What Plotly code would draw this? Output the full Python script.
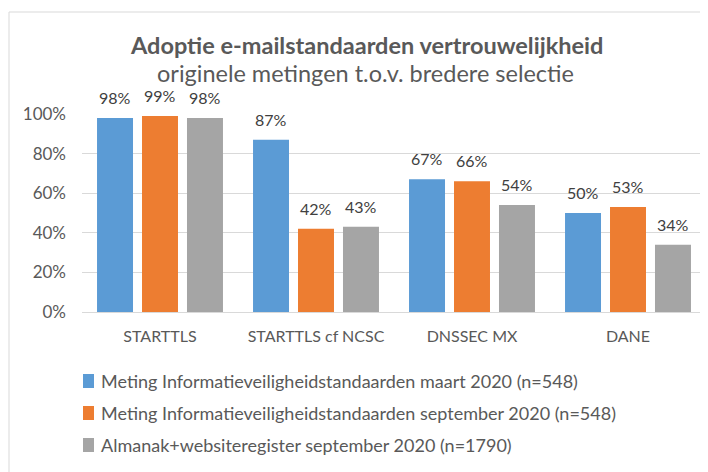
import plotly.graph_objects as go

categories = ["STARTTLS", "STARTTLS cf NCSC", "DNSSEC MX", "DANE"]
series_names = [
    "Meting Informatieveiligheidstandaarden maart 2020 (n=548)",
    "Meting Informatieveiligheidstandaarden september 2020 (n=548)",
    "Almanak+websiteregister september 2020 (n=1790)",
]
maart = [0.98, 0.87, 0.67, 0.50]
september = [0.99, 0.42, 0.66, 0.53]
almanak = [0.98, 0.43, 0.54, 0.34]
colors = ["#5B9BD5", "#ED7D31", "#A5A5A5"]
tick_vals = [0, 0.2, 0.4, 0.6, 0.8, 1.0]
tick_text = ["0%", "20%", "40%", "60%", "80%", "100%"]

FONT = "Lato, 'Open Sans', sans-serif"
TXT = "#595959"

# page body has an 8px margin; work in screen coordinates
OFF = 8
W, H = 700, 464
L, R, T, B = 82 - OFF, 2, 114 - OFF, 160
PW, PH = W - L - R, H - T - B
BARGAP, GROUPGAP = 0.135, 0.2


def px(x):
    return (x - OFF - L) / PW


def py(y):
    return (H - B - (y - OFF)) / PH


fig = go.Figure()
all_series = [maart, september, almanak]
for i, (name, vals) in enumerate(zip(series_names, all_series)):
    fig.add_trace(go.Bar(
        x=categories, y=vals, name=name,
        marker=dict(color=colors[i], line=dict(width=0)),
        showlegend=False, cliponaxis=False,
    ))

annotations = [
    dict(text="<b>Adoptie e-mailstandaarden vertrouwelijkheid</b>",
         xref="paper", yref="paper", x=px(366), y=py(45),
         xanchor="center", yanchor="middle", showarrow=False, borderpad=0,
         font=dict(family=FONT, size=23.5, color=TXT)),
    dict(text="originele metingen t.o.v. bredere selectie",
         xref="paper", yref="paper", x=px(365), y=py(73),
         xanchor="center", yanchor="middle", showarrow=False, borderpad=0,
         font=dict(family=FONT, size=23.5, color=TXT)),
]

# data labels above each bar, placed on the data scale
cat_w = PW / len(categories)
slot = cat_w * (1 - BARGAP) / len(all_series)
for i, vals in enumerate(all_series):
    for c, v in zip(categories, vals):
        annotations.append(dict(
            text=f"{round(v*100)}%", xref="x", yref="y", x=c, y=v,
            xshift=(i - 1) * slot, yshift=10, xanchor="center", yanchor="bottom",
            showarrow=False, borderpad=0,
            font=dict(family=FONT, size=16, color="#404040")))

shapes = [
    dict(type="rect", xref="paper", yref="paper",
         x0=px(9), x1=px(760), y0=py(520), y1=py(12),
         line=dict(color="#D9D9D9", width=1), layer="below"),
]
legend_y = [381, 413, 445]
for i, name in enumerate(series_names):
    shapes.append(dict(type="rect", xref="paper", yref="paper",
                       x0=px(83), x1=px(94), y0=py(legend_y[i] + 7), y1=py(legend_y[i] - 7),
                       fillcolor=colors[i], line=dict(width=0)))
    annotations.append(dict(text=name, xref="paper", yref="paper",
                            x=px(99), y=py(legend_y[i]), xanchor="left", yanchor="middle",
                            showarrow=False,
                            font=dict(family=FONT, size=18, color=TXT)))

fig.update_layout(
    width=W, height=H,
    margin=dict(l=L, r=R, t=T, b=B, autoexpand=False),
    paper_bgcolor="white", plot_bgcolor="white",
    barmode="group", bargap=BARGAP, bargroupgap=GROUPGAP,
    font=dict(family=FONT, color=TXT),
    showlegend=False,
    xaxis=dict(
        showgrid=False, showline=True, linecolor="#D9D9D9", linewidth=1,
        ticks="", tickfont=dict(family=FONT, size=16, color=TXT),
        ticklabelstandoff=10, automargin=False,
    ),
    yaxis=dict(
        range=[0, 1.0], tickvals=tick_vals, ticktext=tick_text,
        showgrid=True, gridcolor="#D9D9D9", gridwidth=1, zeroline=False,
        showline=False, ticks="", ticklabelstandoff=15,
        tickfont=dict(family=FONT, size=17, color=TXT),
        automargin=False,
    ),
    annotations=annotations,
    shapes=shapes,
)

fig.write_html("out.html")
